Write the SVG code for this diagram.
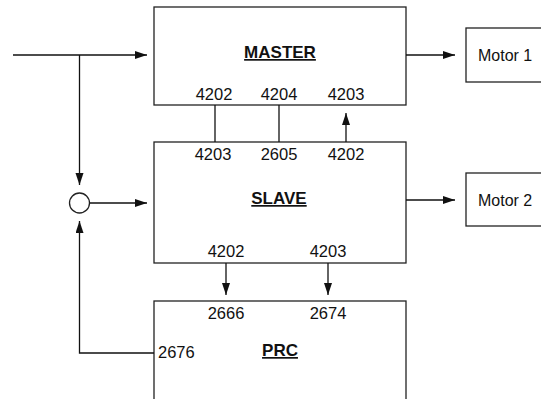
<svg xmlns="http://www.w3.org/2000/svg" width="541" height="399" viewBox="0 0 541 399">
<style>
.box{fill:#fff;stroke:#222;stroke-width:1.3}
.ln{fill:none;stroke:#111;stroke-width:1.3}
.arr{marker-end:url(#ah)}
.t{font-family:"Liberation Sans",Arial,sans-serif;font-size:16.5px;fill:#111}
.m{font-family:"Liberation Sans",Arial,sans-serif;font-size:16px;fill:#111}
.b{font-family:"Liberation Sans",Arial,sans-serif;font-size:17px;font-weight:bold;fill:#111;text-decoration:underline}
</style>
<defs>
<marker id="ah" markerUnits="userSpaceOnUse" markerWidth="13" markerHeight="9" refX="12" refY="4" orient="auto">
<path d="M0,0 L12,4 L0,8 z" fill="#111"/>
</marker>
</defs>
<rect width="541" height="399" fill="#fff"/>
<g id="master">
<rect class="box" x="154" y="7" width="252" height="98"/>
<text class="b" x="280" y="58" text-anchor="middle">MASTER</text>
<text class="t" x="214" y="100" text-anchor="middle">4202</text>
<text class="t" x="279" y="100" text-anchor="middle">4204</text>
<text class="t" x="346" y="100" text-anchor="middle">4203</text>
</g>
<g id="slave">
<rect class="box" x="154" y="142" width="252" height="121"/>
<text class="b" x="279" y="204" text-anchor="middle">SLAVE</text>
<text class="t" x="213" y="160" text-anchor="middle">4203</text>
<text class="t" x="279" y="160" text-anchor="middle">2605</text>
<text class="t" x="346" y="160" text-anchor="middle">4202</text>
<text class="t" x="226" y="257" text-anchor="middle">4202</text>
<text class="t" x="328" y="257" text-anchor="middle">4203</text>
</g>
<g id="prc">
<rect class="box" x="154" y="301" width="252" height="110"/>
<text class="b" x="280" y="356" text-anchor="middle">PRC</text>
<text class="t" x="226" y="319" text-anchor="middle">2666</text>
<text class="t" x="328" y="319" text-anchor="middle">2674</text>
<text class="t" x="158" y="358">2676</text>
</g>
<g id="motor1">
<rect class="box" x="466" y="28" width="80" height="54"/>
<text class="m" x="478" y="61">Motor 1</text>
</g>
<g id="motor2">
<rect class="box" x="466" y="173" width="80" height="53"/>
<text class="m" x="478" y="206">Motor 2</text>
</g>
<g id="sum">
<circle cx="79.5" cy="203" r="10" fill="#fff" stroke="#222" stroke-width="1.3"/>
</g>
<g id="connectors">
<path class="ln arr" d="M13,55 L147,55"/>
<path class="ln arr" d="M79.5,55 L79.5,185"/>
<path class="ln arr" d="M89.5,203 L147,203"/>
<path class="ln arr" d="M154,353 L79.5,353 L79.5,221"/>
<path class="ln arr" d="M406,55 L455,55"/>
<path class="ln arr" d="M406,200 L455,200"/>
<path class="ln" d="M215,105 L215,142"/>
<path class="ln" d="M279,105 L279,142"/>
<path class="ln arr" d="M346,142 L346,113"/>
<path class="ln arr" d="M226,263 L226,295"/>
<path class="ln arr" d="M328,263 L328,295"/>
</g>
</svg>
